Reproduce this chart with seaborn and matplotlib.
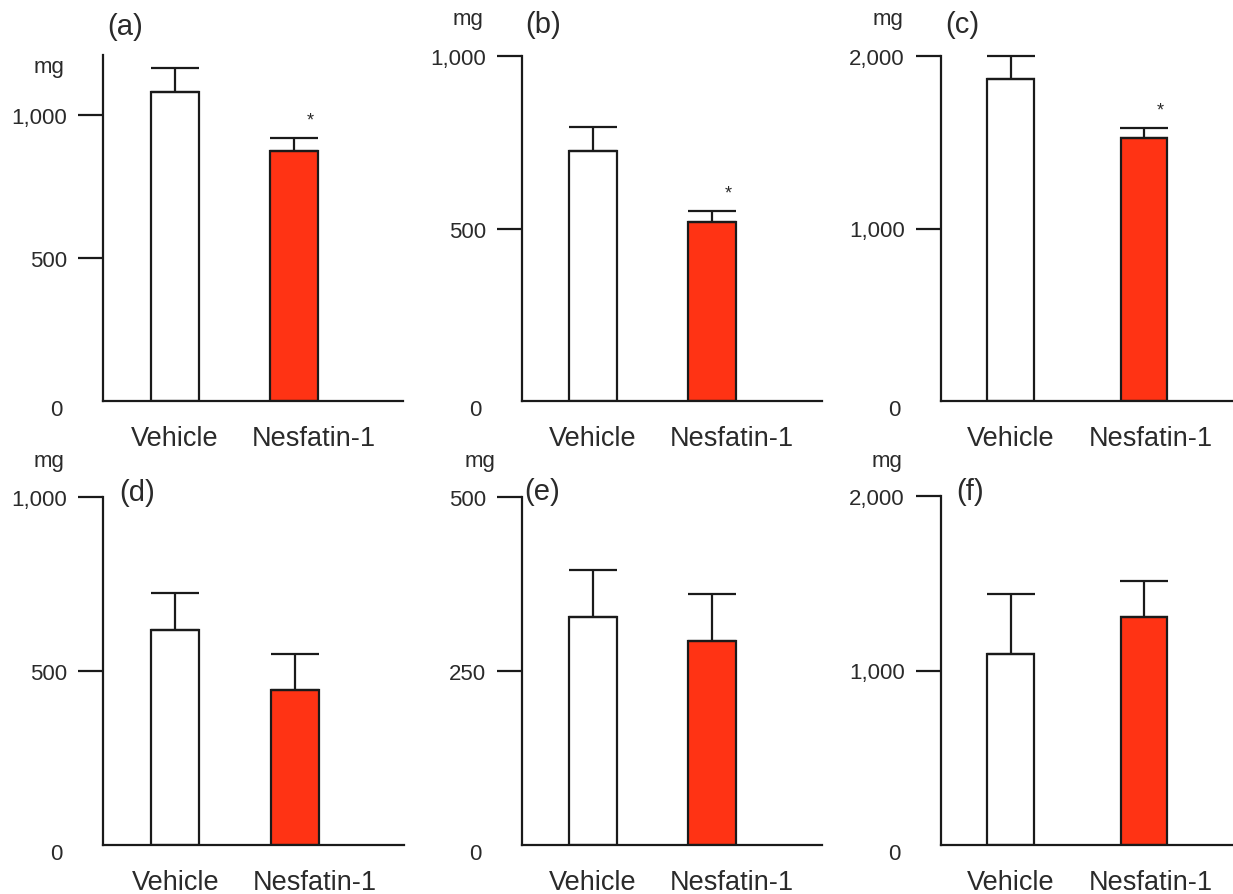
import numpy as np
import matplotlib
matplotlib.use('Agg')
import matplotlib.pyplot as plt
import seaborn as sns

# --------------------------------------------------------------------------------
# data (mean and upper SEM, mg)
groups = ['Vehicle', 'Nesfatin-1']
panel_labels = ['(a)', '(b)', '(c)', '(d)', '(e)', '(f)']

means_a = [1081, 873]
err_a = [82, 45]
means_b = [724, 518]
err_b = [69, 33]
means_c = [1867, 1523]
err_c = [135, 61]
means_d = [618, 446]
err_d = [105, 104]
means_e = [328, 293]
err_e = [67, 68]
means_f = [1097, 1307]
err_f = [344, 206]

y_top = [1210, 1000, 2000, 1000, 500, 2000]
y_ticks = [[500, 1000], [500, 1000], [1000, 2000], [500, 1000], [250, 500], [1000, 2000]]
significant = [True, True, True, False, False, False]

all_means = [means_a, means_b, means_c, means_d, means_e, means_f]
all_errs = [err_a, err_b, err_c, err_d, err_e, err_f]

# --------------------------------------------------------------------------------
sns.set_style('ticks')
plt.rcParams['font.family'] = ['Liberation Sans', 'DejaVu Sans']
text_col = '#2a2a2a'
line_col = '#1a1a1a'
bar_colors = ['white', '#FF3314']

W, H = 1233, 895
fig = plt.figure(figsize=(W / 100, H / 100), dpi=100)

# axes boxes in pixels: left, right, bottom(y), top(y)
boxes = [(103, 403, 402, 56), (522, 822, 402, 57), (941, 1233, 402, 57),
         (103, 404, 846, 498), (522, 822, 846, 498), (941, 1233, 846, 497)]
# x limits in category units and bar width per column
xlims = [(-0.605, 1.916), (-0.597, 1.924), (-0.526, 1.669)]
widths = [0.40, 0.40, 0.353]
label_shift = [0.168, 0.168, 0.05]
mg_pos = [(49, 67), (468, 20), (888, 20), (49, 462), (480, 462), (887, 462)]
lab_pos = [(125, 27), (543, 25), (962, 25), (137, 493), (542, 492), (970, 492)]

for i in range(6):
    l, r, b, t = boxes[i]
    col = i % 3
    ax = fig.add_axes([l / W, 1 - b / H, (r - l) / W, (b - t) / H])

    sns.barplot(x=groups, y=all_means[i], hue=groups, palette=bar_colors, legend=False,
                width=widths[col], edgecolor=line_col, linewidth=1.6, errorbar=None,
                saturation=1, ax=ax)
    ax.errorbar(x=[0, 1], y=all_means[i], yerr=[[0, 0], all_errs[i]], fmt='none',
                ecolor=line_col, elinewidth=1.6, capthick=1.6, capsize=17.2,
                clip_on=False, zorder=5)

    # significance star over the Nesfatin-1 bar
    if significant[i]:
        ax.annotate('*', xy=(1, all_means[i][1] + all_errs[i][1]),
                    xytext=(11.5, 13), textcoords='offset points',
                    ha='center', va='center', fontsize=13, color=text_col)

    ax.set_xlim(*xlims[col])
    ax.set_ylim(0, y_top[i])
    sns.despine(ax=ax)
    ax.spines['left'].set_linewidth(1.6)
    ax.spines['bottom'].set_linewidth(1.6)
    ax.spines['left'].set_color(line_col)
    ax.spines['bottom'].set_color(line_col)

    ax.set_yticks(y_ticks[i])
    ax.set_yticklabels([f'{v:,}' for v in y_ticks[i]])
    ax.tick_params(axis='y', length=18, width=1.6, color=line_col, pad=8,
                   labelsize=16, labelcolor=text_col)
    ax.set_xticks([0, 1 + label_shift[col]])
    ax.set_xticklabels(groups)
    ax.tick_params(axis='x', length=0, pad=17, labelsize=19.5, labelcolor=text_col)
    ax.set_xlabel('')
    ax.set_ylabel('')

    # the zero label sits a little below the baseline with no tick
    ax.annotate('0', xy=(0, 0), xycoords=('axes fraction', 'data'),
                xytext=(-29, -6), textcoords='offset points',
                ha='right', va='center', fontsize=16, color=text_col)

    fig.text(mg_pos[i][0] / W, 1 - mg_pos[i][1] / H, 'mg', ha='center', va='center',
             fontsize=16, color=text_col)
    fig.text(lab_pos[i][0] / W, 1 - lab_pos[i][1] / H, panel_labels[i], ha='center',
             va='center', fontsize=21, color=text_col)

fig.savefig('out.png', dpi=100)
